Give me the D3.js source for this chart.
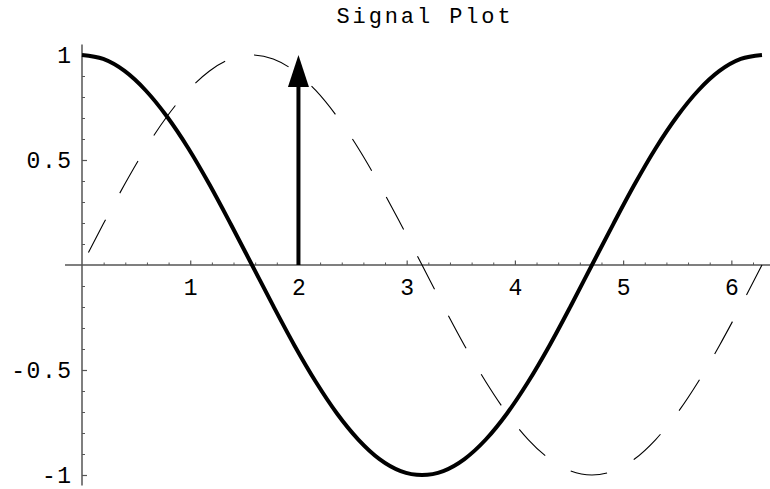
<!DOCTYPE html>
<html>
<head>
<meta charset="utf-8">
<script src="https://cdn.jsdelivr.net/npm/d3@7"></script>
<style>
  html, body { margin: 0; padding: 0; background: #fff; }
  svg { display: block; }
  text { font-family: "Courier New", Courier, "Liberation Mono", monospace; fill: #000; }
</style>
</head>
<body>
<svg id="chart" width="770" height="489"></svg>
<script>
// Sample positions along the horizontal axis (one full period, 33 samples)
const xs = [0, 0.196, 0.393, 0.589, 0.785, 0.982, 1.178, 1.374, 1.571, 1.767, 1.963,
  2.160, 2.356, 2.553, 2.749, 2.945, 3.142, 3.338, 3.534, 3.731, 3.927, 4.123, 4.320,
  4.516, 4.712, 4.909, 5.105, 5.301, 5.498, 5.694, 5.890, 6.087, 6.283];

// Solid, heavy trace
const solidValues = [1, 0.981, 0.924, 0.831, 0.707, 0.556, 0.383, 0.195, 0,
  -0.195, -0.383, -0.556, -0.707, -0.831, -0.924, -0.981, -1, -0.981, -0.924,
  -0.831, -0.707, -0.556, -0.383, -0.195, 0, 0.195, 0.383, 0.556, 0.707, 0.831,
  0.924, 0.981, 1];

// Thin, dashed trace
const dashedValues = [0, 0.195, 0.383, 0.556, 0.707, 0.831, 0.924, 0.981, 1,
  0.981, 0.924, 0.831, 0.707, 0.556, 0.383, 0.195, 0, -0.195, -0.383, -0.556,
  -0.707, -0.831, -0.924, -0.981, -1, -0.981, -0.924, -0.831, -0.707, -0.556,
  -0.383, -0.195, 0];

// Impulse arrow: position and height
const arrowX = [2];
const arrowValue = [1];

// Tick labels
const xTickValues = [1, 2, 3, 4, 5, 6];
const xTickLabels = ["1", "2", "3", "4", "5", "6"];
const yTickValues = [1, 0.5, -0.5, -1];
const yTickLabels = ["1", "0.5", "-0.5", "-1"];

const titleText = "Signal Plot";

const svg = d3.select("#chart");

const x = d3.scaleLinear().domain([0, 6.2832]).range([82, 762]);
const y = d3.scaleLinear().domain([-1, 1]).range([475, 55]);

const axisColor = "#555";
const labelSize = "23px";
const labelSpacing = 1.5;

// Title
svg.append("text")
  .attr("x", 425)
  .attr("y", 23)
  .attr("text-anchor", "middle")
  .style("font-size", "22px")
  .style("letter-spacing", "2.9px")
  .text(titleText);

// Axis lines (extend a little past the data range)
svg.append("line")
  .attr("x1", x(-0.157)).attr("x2", 770)
  .attr("y1", y(0)).attr("y2", y(0))
  .attr("stroke", axisColor).attr("stroke-width", 1.5);
svg.append("line")
  .attr("x1", x(0)).attr("x2", x(0))
  .attr("y1", y(1.05)).attr("y2", y(-1.05))
  .attr("stroke", axisColor).attr("stroke-width", 1.5);

// X minor ticks every 0.2
const xMinor = d3.range(1, 32).map(i => i * 0.2).filter(v => Math.abs(v - Math.round(v)) > 1e-6);
const xMinorAxis = d3.axisBottom(x).tickValues(xMinor).tickSize(-2.5).tickFormat("");
svg.append("g").attr("transform", `translate(0,${y(0)})`).call(xMinorAxis)
  .call(g => g.select(".domain").remove())
  .call(g => g.selectAll("line").attr("stroke", axisColor).attr("stroke-width", 1));

// X major ticks and labels
const xAxis = d3.axisBottom(x).tickValues(xTickValues).tickSize(-4.5)
  .tickFormat((d, i) => xTickLabels[i]);
svg.append("g").attr("transform", `translate(0,${y(0)})`).call(xAxis)
  .call(g => g.select(".domain").remove())
  .call(g => g.selectAll("line").attr("stroke", axisColor).attr("stroke-width", 1.2))
  .call(g => g.selectAll("text")
    .attr("font-family", null).style("font-size", labelSize)
    .attr("y", 30).attr("dy", 0));

// Y minor ticks every 0.1
const yMinor = d3.range(-10, 11).map(i => i * 0.1)
  .filter(v => Math.abs(v) > 1e-6 && Math.abs(v * 2 - Math.round(v * 2)) > 1e-6);
const yMinorAxis = d3.axisLeft(y).tickValues(yMinor).tickSize(-3).tickFormat("");
svg.append("g").attr("transform", `translate(${x(0)},0)`).call(yMinorAxis)
  .call(g => g.select(".domain").remove())
  .call(g => g.selectAll("line").attr("stroke", axisColor).attr("stroke-width", 1));

// Y major ticks and labels
const yAxis = d3.axisLeft(y).tickValues(yTickValues).tickSize(-5)
  .tickPadding(11).tickFormat((d, i) => yTickLabels[i]);
svg.append("g").attr("transform", `translate(${x(0)},0)`).call(yAxis)
  .call(g => g.select(".domain").remove())
  .call(g => g.selectAll("line").attr("stroke", axisColor).attr("stroke-width", 1.2))
  .call(g => g.selectAll("text")
    .attr("font-family", null).style("font-size", labelSize)
    .style("letter-spacing", labelSpacing + "px").attr("dx", labelSpacing + "px"));

// Traces
const line = (vals) => d3.line()
  .x((d, i) => x(xs[i]))
  .y(d => y(d))
  .curve(d3.curveMonotoneX)(vals);

svg.append("path")
  .attr("d", line(dashedValues))
  .attr("fill", "none")
  .attr("stroke", "#000")
  .attr("stroke-width", 1.1)
  .attr("stroke-dasharray", "37,30")
  .attr("stroke-dashoffset", -14);

svg.append("path")
  .attr("d", line(solidValues))
  .attr("fill", "none")
  .attr("stroke", "#000")
  .attr("stroke-width", 4)
  .attr("stroke-linejoin", "round");

// Arrow
const headLen = 32, headHalf = 10.5;
arrowX.forEach((ax, i) => {
  const px = x(ax), y0 = y(0), y1 = y(arrowValue[i]);
  svg.append("line")
    .attr("x1", px).attr("x2", px)
    .attr("y1", y0).attr("y2", y1 + headLen - 1)
    .attr("stroke", "#000").attr("stroke-width", 4);
  svg.append("path")
    .attr("d", `M${px},${y1} L${px - headHalf},${y1 + headLen} L${px + headHalf},${y1 + headLen} Z`)
    .attr("fill", "#000");
});
</script>
</body>
</html>
